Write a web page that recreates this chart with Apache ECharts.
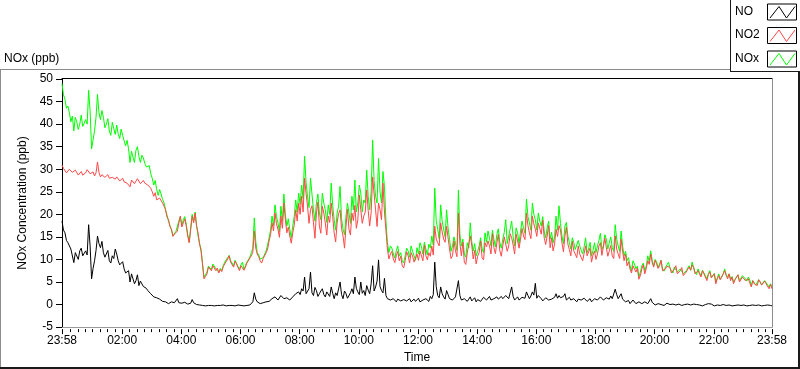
<!DOCTYPE html>
<html>
<head>
<meta charset="utf-8">
<script src="https://cdn.jsdelivr.net/npm/echarts@6/dist/echarts.min.js"></script>
<style>
html,body{margin:0;padding:0;background:#fff;}
#chart{width:800px;height:369px;}
</style>
</head>
<body>
<div id="chart"></div>
<script>
// Readings every STEP minutes (since 23:58), plus a second reading HALF-way in each slot
const STEP = 6;

const seriesNames = ['NO', 'NO2', 'NOx'];

// NO (black) at 0, 6, 12 ... minutes
const noValues = [
18.5,15.9,13.7,12.3,9.3,11.2,11.9,10.8,11.9,17.7,
5.7,9.7,15.2,12.6,11.5,10.8,9.7,10.8,12.3,9.7,
9,7.9,6.8,5,6.4,5.3,4.2,5,3.9,3.1,
2.4,1.7,1.5,1.2,0.7,0.6,0.2,0.6,0.4,1.3,
0.6,0.2,0.4,0.2,1.1,0.1,0,-0.2,-0.3,-0.2,
-0.3,-0.2,-0.1,-0.3,-0.2,-0.3,-0.2,-0.1,-0.3,-0.2,
-0.2,-0.3,-0.1,-0.2,0.3,2.6,0.6,
0.2,0.4,0.6,0.7,1.3,1.7,1,2,1.3,1.5,
1,1.7,2.4,2.8,3.5,6.1,2.8,7.2,2,3.1,
2.4,3.5,1.7,3.1,3.9,1.3,2,5,1.3,2.4,
1.7,3.5,6.1,2.8,5,3.1,4.2,2.4,8.6,3.9,
9.9,3.1,5.8,1.3,1,1.3,0.6,1,0.6,1.3,
1,0.6,1.2,1,0.6,1,1.3,0.7,1.3,9.4,
2,3.9,1.7,3.1,1.3,1,1.7,5.3,
1,1.3,0.7,1.7,1,0.6,1.3,1,1.5,1.3,
1,1.3,1.7,1,1.3,2,1.3,3.9,1,1.7,
1.3,2,2.8,1.3,2.8,4.7,2,1.3,1,1.3,
0.6,1,2.4,2,1.3,2.4,1.3,1,1.3,0.6,
1.3,0.7,1.5,1,0.6,1.3,1,1.7,1,1.5,
1.2,1.3,3.4,1.3,2.4,1,0.6,0.2,1,0.2,
0.6,0.2,0.6,0.2,
1.3,0.2,0,0.1,-0.1,0.1,0.2,-0.1,0,-0.2,
0,-0.1,0.1,-0.2,0,-0.1,-0.2,0,-0.2,-0.1,
0.4,-0.1,-0.2,-0.3,-0.2,-0.1,-0.3,-0.2,-0.3,-0.1,
-0.2,-0.3,-0.2,-0.1,-0.3,-0.2,-0.3,-0.2,-0.2,-0.3,
-0.2,-0.3
];
// NO (black) at 3, 9, 15 ... minutes
const noValuesHalf = [
16.5,14.2,13.5,12,11.5,10,12.5,11,11,13,
8,12,13.5,14,10.5,12,9.2,10.2,11.2,8.8,
9.5,7,7.5,6.8,4.6,6.6,5.2,4,3.6,2.9,
2.6,1.4,1.8,0.9,0.9,0.4,0.3,0.3,0.5,0.4,
0.3,0.5,0.1,0.3,0.4,0,-0.1,-0.2,-0.3,-0.2,
-0.2,-0.3,-0.2,-0.2,-0.1,-0.3,-0.2,-0.2,-0.3,-0.1,
-0.2,-0.3,-0.2,-0.1,0.6,1.2,0.3,0.5,0.4,0.9,
1,1.2,1.6,1.3,1.6,1.1,1.8,1.2,1.9,2,
2.2,3,2.4,3.5,2.6,3.8,1.8,3,2.2,2.8,
1.8,2.5,2.6,1.6,2.2,3,1.4,2.6,2.4,3.6,
2.2,2.5,2,3.2,4.6,3,5.2,4,2.6,2,
1.4,0.7,1,1.2,0.8,1.1,0.8,1.3,1,0.7,
1.4,0.9,0.6,1.1,1.8,2.2,4,1.5,2.4,1.2,
2.2,1.6,0.9,1.4,2,0.7,1.6,1.2,0.8,1.5,
1.1,0.7,1.6,1,1.8,0.8,1.5,1.2,1.8,1,
1.7,1.1,1.8,1.4,1,1.6,1.4,2,1.9,2.1,
1.4,1.6,0.8,1.5,1,1.2,1.6,1.4,1.5,1.8,
1,1.6,0.8,1,1.2,1,1.4,0.7,1.3,1,
1.5,1.2,1.3,0.8,1.6,1.9,1.6,2.2,1.6,1.2,
0.6,0.9,0.5,0.7,0.4,0.8,0.4,0.5,0.6,0.5,
-0.1,0.2,0,-0.2,0.3,0,0.1,-0.1,0.1,-0.2,
0,0.1,-0.1,0.1,0,-0.1,-0.3,0,0.2,0.1,
-0.3,-0.1,-0.2,0,-0.2,-0.1,-0.3,-0.2,-0.1,-0.2,
-0.1,-0.3,-0.2,-0.1,-0.2,-0.1,-0.3,-0.2,-0.1,-0.2
];

// NO2 (red) at 0, 6, 12 ... minutes
const no2Values = [
30.9,29.8,29.4,29.8,29.1,29.4,28.9,28.7,29.2,29.6,
28.9,28.5,31.6,28.3,28.5,28.2,28,28.2,27.8,28,
27.6,27.2,26.9,26.1,27.5,27.2,27.8,27.2,26.9,26.5,
25.8,24,23.2,23.6,22.5,21,18.8,16.7,15.6,16.3,
19.6,18.1,17.4,13.7,19.6,20.3,15.9,11.9,5.7,6.8,
7.9,8.6,7.5,7,7.3,9,10.1,9.4,8.3,9,
7.5,9,8.3,9.4,10.8,16.3,11.2,
9.7,10.2,11.5,14.1,18.1,20.3,16.7,19.6,22.5,15.9,
15.2,15.9,21,22.5,24,28,21.8,21,18.1,20.3,
17.4,21.8,18.1,19.6,22.5,15.9,18.1,21,15.2,17.4,
16.7,20.3,22,18.8,21,19.6,25.4,17.4,28.3,21,
22.5,18.8,20.5,12.3,11.2,10.1,10.8,9.7,8.6,9.7,
10.8,11.5,9.4,11.2,11.9,9.7,10.8,11.5,13,17.4,
13.7,18.1,14.5,17.4,12.3,10.8,11.9,20.3,
10.8,9.4,11.5,15.2,10.1,9,11.5,10.4,13.7,14.1,
11.2,12.6,13.7,11.9,13,15.2,13,14.8,11.2,14.1,
14.5,15.2,20.3,15.9,19.6,16.7,18.1,15.6,14.8,15.2,
12.6,11.9,16.7,17.5,13.7,15.2,13.4,10.8,11.9,10.4,
11.2,9.7,13,10.8,9.4,11.9,11.2,13.7,11.2,12.6,
11.9,10.8,15.2,11.2,14.5,9.7,8.6,7.9,8.6,7.2,
5.6,7.9,6.8,9.7,
11.2,8.3,9,8.6,7.5,7.9,8.6,7,7.9,6.8,
7.5,6.4,7.2,8.3,8.8,6.8,7.5,6.1,6.8,5.3,
7.2,6.1,4.6,6.4,5.7,7.5,5.7,5.3,4.6,5.7,
5,6.1,5.3,5.7,3.9,4.6,4.2,5,4.2,4.6,
3.5,3.5
];
// NO2 (red) at 3, 9, 15 ... minutes
const no2ValuesHalf = [
30.2,29.2,30,29.3,29.8,28.7,29.5,28.9,29.9,29,
29.4,29.2,29.3,28.8,28.2,28.8,27.6,28.6,28.3,27.4,
28,27.4,26.5,27.6,26.8,27.9,26.8,27.5,26.5,26.9,
25,24.8,22.8,23.9,21.8,19.4,17.3,15.1,15.9,18.1,
17.2,19,15.2,16.6,18.1,17.3,13.4,9,6.2,8.3,
7.5,8.4,8.1,7.8,8.4,8.8,10.8,9,9.6,8.2,
8.6,7.6,9.2,10.3,11.6,12.5,10.6,9.2,10.4,12.3,
15.5,16.3,17.9,14.9,16.9,18.9,17.2,13.6,17.6,18.5,
20,20.5,24.6,18,21.9,14.7,22.7,15.8,20.3,15.4,
18.2,19.5,13.9,20.2,16.8,12.5,21.1,15.4,18.6,16.9,
24.3,18,20.5,20.8,20.4,24.5,17.3,21,26.9,16.5,
10.1,11.8,9.3,11.8,10.7,8.1,11.7,9.2,10.8,9.1,
9.8,11.9,13.2,9.9,10.7,11,14.5,13,16.1,13.8,
14.8,10.2,14.1,10.6,13.5,13.8,8.9,11.3,13.2,12,
10.7,14.1,9.9,12.8,13,15.7,11.3,15.6,10.7,15,
11.8,15.7,13.2,15.6,12.5,16.9,14.4,17.5,14.6,17.9,
15.1,16.9,18.7,13.3,17.5,14.8,13.4,15.1,16.5,11.7,
17.2,12.2,14,11.2,13,11,11.4,10.8,12.5,11,
10,13,10.9,14.7,10.7,13.1,10.2,12.3,10.2,11.8,
11.2,9.5,7,8.3,8.1,6.4,8.8,8,8.9,9.3,
9.8,8,9.8,7.3,8.5,8.2,6.9,8.6,6.7,8.2,
6.5,7.8,7.6,8.2,6.6,7.1,7.5,6.4,6.7,5.9,
6.8,5.8,5.5,6.8,6.5,6.8,6.1,5.5,6.6,4.9,
6,5.1,5.3,5.3,4.2,5.5,4.3,5.2,4.4,4.5
];

// NOx (green) at 0, 6, 12 ... minutes
const noxValues = [
49,45.5,44,40.5,38.5,40.5,40,39.5,41,47.5,
34.5,38.5,46.6,41,41.5,40,38.5,40.4,37.7,37.8,
38.9,36.3,36.4,31.5,32.7,34.2,32.8,33.1,31.3,30.2,
29,26.5,25.5,25.5,23.3,21,18.5,16.5,15.5,16.6,
19.5,18.8,17.8,13.8,20,20.5,15.2,12.3,6,7.2,
8.3,9,7.9,7.2,7.5,9.4,10.4,9.7,8.6,9.4,
7.9,9.4,8.6,9.7,11.5,19.2,11.5,
10.1,10.4,11.9,14.8,19.6,22.1,18.1,21.8,24.5,17.4,
16.7,17.4,23.2,24.7,26.5,32.9,24,28,21,22.5,
20.3,24.7,21,22.1,26.9,18.8,20.3,26.2,16.7,19.6,
20.3,24,27.6,22.5,24.7,23.2,29.8,21,36.5,24,
32.4,22.5,26.2,13.7,13,11.2,11.9,10.8,9.7,10.8,
11.9,13,10.8,12.6,13.7,11.2,12.3,13.4,15.2,25.8,
16.7,22.1,16.7,21,14.5,13,13.7,25.4,
13,11.2,13.7,18.1,11.9,10.8,13,12.3,15.9,16.3,
13,14.5,15.6,13.7,14.5,18.8,15.2,18.5,13,15.9,
16.3,17,23.4,18.1,22.5,18.8,20.3,17.4,16.3,17,
14.5,13.7,19.6,21.9,15.2,17.4,15.2,12.3,13.7,11.9,
13,11.2,14.8,12.3,10.8,13.7,13,15.8,13,14.5,
13.7,12.6,17.7,13,16.3,10.8,9.7,8.6,9.7,7.9,
6.1,8.6,7.5,10.8,
11.9,8.6,9.4,9,7.9,8.3,9.4,7.5,8.3,7.2,
7.9,6.8,7.5,8.6,9.4,7.2,7.9,6.4,7.2,5.7,
7.5,6.4,5,6.8,6.1,7.9,6.1,5.7,5,6.1,
5.3,6.4,5.7,6.1,4.2,5,4.6,5.3,4.6,5,
3.9,3.9
];
// NOx (green) at 3, 9, 15 ... minutes
const noxValuesHalf = [
46.5,43.5,42.5,41.8,41.5,38.8,42,40.2,40,43,
36.5,41.5,42.5,43,39.2,41.2,37.5,39,39.8,36.8,
37.5,35.2,34.5,34,31.5,35,31.5,32.5,30.5,30.8,
28,27.5,24.2,24.5,22.5,19.8,17.5,15.2,16.2,18.5,
17.5,19.5,15.5,17,18.5,17.5,13.5,9,6.4,8.5,
7.7,8.6,8.3,8,8.6,9,10.9,9.2,9.8,8.4,
8.8,7.8,9.4,10.5,12.5,14,11,9.7,10.8,13.2,
16.5,17.5,19.5,16.2,18.5,20,19,14.8,19.5,20.5,
22.2,23.5,27,21.5,24.5,18.5,24.5,18.8,22.5,18.2,
20,22,16.5,21.8,19,15.5,22.5,18,21,20.5,
26.5,20.5,22.5,24,25,27.5,22.5,25,29.5,18.5,
11.5,12.5,10.3,13,11.5,9.2,12.5,10.5,11.8,9.8,
11.2,12.8,13.8,11,12.5,13.2,18.5,14.5,18.5,15,
17,11.8,15,12,15.5,14.5,10.5,12.5,14,13.5,
11.8,14.8,11.5,13.8,14.8,16.5,12.8,16.8,12.5,16,
13.5,16.8,15,17,13.5,18.5,15.8,19.5,16.5,20,
16.5,18.5,19.5,14.8,18.5,16,15,16.5,18,13.5,
18.2,13.8,14.8,12.2,14.2,12,12.8,11.5,13.8,12,
11.5,14.2,12.2,15.5,12.3,15,11.8,14.5,11.8,13,
11.8,10.4,7.5,9,8.5,7.2,9.2,8.5,9.5,9.8,
10,8.2,9.8,7.4,8.8,8.2,7,8.6,6.8,8.3,
6.5,7.9,7.6,8.3,6.6,7.1,7.6,6.4,6.9,6,
6.9,5.8,5.6,6.8,6.6,6.8,6.2,5.6,6.6,5,
6,5.2,5.4,5.3,4.3,5.5,4.4,5.3,4.4,4.6
];

// X tick positions (minutes since 23:58) and their labels
const tickMinutes = [0,122,242,362,482,602,722,842,962,1082,1202,1322,1440];
const tickLabels  = ['23:58','02:00','04:00','06:00','08:00','10:00','12:00','14:00','16:00','18:00','20:00','22:00','23:58'];
// Minor ticks every 15 minutes (first one at 00:15)
const minorTickMinutes = [];
for (let m = 17; m < 1440; m += 15) {
  if ((m - 2) % 120 !== 0) minorTickMinutes.push(m);
}

const yTicks = { min: -5, max: 50, interval: 5 };

const FONT = 'Liberation Sans, Arial, sans-serif';
function buildPairs(onStep, onHalf) {
  const out = [];
  onStep.forEach((v, i) => {
    out.push([i * STEP, v]);
    if (i < onHalf.length) out.push([i * STEP + STEP / 2, onHalf[i]]);
  });
  return out;
}
const labelFor = v => {
  const k = tickMinutes.indexOf(Math.round(v));
  return k >= 0 ? tickLabels[k] : '';
};

const colors = { NO: '#000000', NO2: '#ff4848', NOx: '#00ff00' };

const chart = echarts.init(document.getElementById('chart'), null, { renderer: 'canvas' });

function legendGraphic() {
  const els = [];
  const tops = [3.5, 27, 50.5];
  seriesNames.forEach((name, k) => {
    const top = tops[k];
    els.push({
      type: 'text', left: 735, top: top + 2,
      style: { text: name, fontSize: 12, fontFamily: FONT, fill: '#000' }
    });
    els.push({
      type: 'rect', shape: { x: 767.5, y: top + 0.5, width: 29, height: 16 },
      style: { fill: '#fff', stroke: '#000', lineWidth: 1 }
    });
    els.push({
      type: 'polyline',
      shape: { points: [[770, top + 14.5], [779, top + 3], [786.5, top + 14.5], [795, top + 3]] },
      style: { stroke: colors[name], lineWidth: 1, fill: null }
    });
  });
  return els;
}

const hiddenX = { type: 'value', min: 0, max: 1440, splitLine: { show: false }, axisLabel: { show: false } };

const option = {
  animation: false,
  backgroundColor: '#fff',
  textStyle: { fontFamily: FONT },
  title: {
    text: 'NOx (ppb)', left: 4, top: 53, padding: 0,
    textStyle: { fontSize: 12, fontWeight: 'normal', color: '#000', fontFamily: FONT }
  },
  grid: { left: 62, right: 28, top: 79, bottom: 39, containLabel: false },
  xAxis: [
    {
      type: 'value', min: 0, max: 1440, position: 'bottom', offset: 2,
      axisLine: { show: false, onZero: false },
      splitLine: { show: false },
      axisTick: { show: true, customValues: tickMinutes, length: 5, lineStyle: { color: '#000' } },
      axisLabel: { customValues: tickMinutes, formatter: labelFor, color: '#000', fontSize: 12, margin: 6, fontFamily: FONT },
      name: 'Time', nameLocation: 'middle', nameGap: 22,
      nameTextStyle: { color: '#000', fontSize: 12, fontFamily: FONT }
    },
    Object.assign({}, hiddenX, {
      position: 'bottom', offset: 2,
      axisLine: { show: false, onZero: false },
      axisTick: { show: true, customValues: minorTickMinutes, length: 3, lineStyle: { color: '#000' } }
    }),
    Object.assign({}, hiddenX, {
      position: 'top', offset: 1,
      axisLine: { show: true, onZero: false, lineStyle: { color: '#000', width: 1 } },
      axisTick: { show: false }
    }),
    Object.assign({}, hiddenX, {
      position: 'bottom', offset: 0,
      axisLine: { show: true, onZero: false, lineStyle: { color: '#9a9a9a', width: 1 } },
      axisTick: { show: false }
    })
  ],
  yAxis: [
    {
      type: 'value', min: yTicks.min, max: yTicks.max, interval: yTicks.interval, position: 'left',
      axisLine: { show: true, onZero: false, lineStyle: { color: '#000' } },
      axisTick: { show: true, length: 6, lineStyle: { color: '#000' } },
      axisLabel: { color: '#000', fontSize: 12, margin: 9, fontFamily: FONT },
      splitLine: { show: false },
      name: 'NOx Concentration (ppb)', nameLocation: 'middle', nameGap: 21,
      nameTextStyle: { color: '#000', fontSize: 12, fontFamily: FONT }
    },
    {
      type: 'value', min: yTicks.min, max: yTicks.max, interval: yTicks.interval, position: 'right',
      axisLine: { show: true, onZero: false, lineStyle: { color: '#8c8c8c' } },
      axisTick: { show: false }, axisLabel: { show: false }, splitLine: { show: false }
    }
  ],
  series: [
    { name: 'NOx', type: 'line', data: buildPairs(noxValues, noxValuesHalf), showSymbol: false, symbol: 'none',
      lineStyle: { color: colors.NOx, width: 1 }, itemStyle: { color: colors.NOx }, z: 2 },
    { name: 'NO2', type: 'line', data: buildPairs(no2Values, no2ValuesHalf), showSymbol: false, symbol: 'none',
      lineStyle: { color: colors.NO2, width: 1 }, itemStyle: { color: colors.NO2 }, z: 3 },
    { name: 'NO', type: 'line', data: buildPairs(noValues, noValuesHalf), showSymbol: false, symbol: 'none',
      lineStyle: { color: colors.NO, width: 1 }, itemStyle: { color: colors.NO }, z: 4 }
  ],
  graphic: [
    { type: 'line', shape: { x1: 0, y1: 69.5, x2: 730, y2: 69.5 }, style: { stroke: '#8c8c8c', lineWidth: 1 } },
    { type: 'line', shape: { x1: 0.5, y1: 69, x2: 0.5, y2: 368 }, style: { stroke: '#8c8c8c', lineWidth: 1 } },
    { type: 'rect', shape: { x: 0, y: 367, width: 800, height: 2 }, style: { fill: '#1a1a1a' } },
    { type: 'rect', shape: { x: 798, y: 71, width: 2, height: 298 }, style: { fill: '#1a1a1a' } },
    { type: 'line', shape: { x1: 730.5, y1: 0, x2: 730.5, y2: 72 }, style: { stroke: '#1a1a1a', lineWidth: 1 } },
    { type: 'line', shape: { x1: 730, y1: 71.5, x2: 800, y2: 71.5 }, style: { stroke: '#1a1a1a', lineWidth: 1 } }
  ].concat(legendGraphic())
};

chart.setOption(option);
</script>
</body>
</html>
